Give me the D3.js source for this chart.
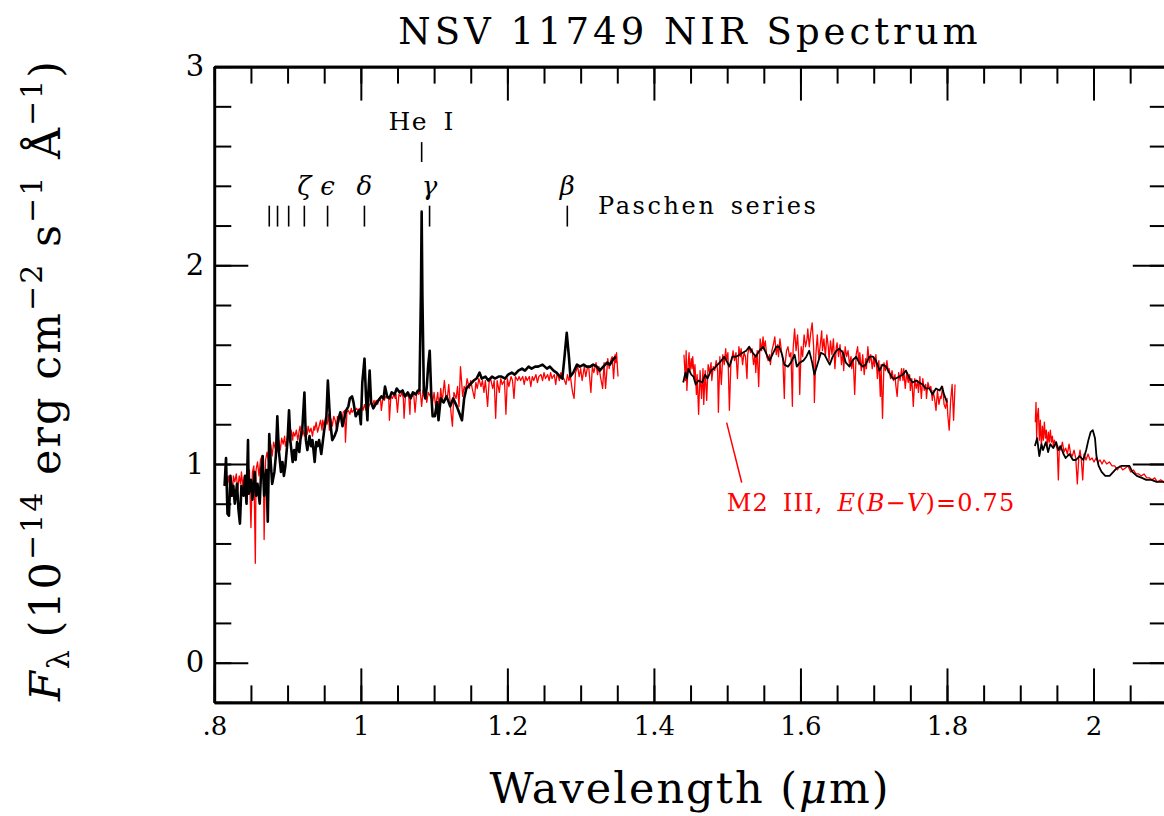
<!DOCTYPE html>
<html>
<head>
<meta charset="utf-8">
<script src="https://cdn.jsdelivr.net/npm/d3@7"></script>
<style>
  body { margin: 0; background: #fff; }
  text { font-family: "DejaVu Serif", serif; fill: #000; }
</style>
</head>
<body>
<svg id="chart"></svg>
<script>
/* Espectro observado (negro) por tramos: [longitud de onda um, flujo] */
const blackJ = [[0.814,0.89],[0.816,1.03],[0.818,0.75],[0.820,0.74],[0.822,0.94],[0.824,0.84],[0.826,0.89],[0.828,0.80],[0.831,0.90],[0.833,0.77],[0.835,0.70],[0.837,0.89],[0.840,0.84],[0.842,0.94],[0.844,0.80],[0.846,1.12],[0.847,0.85],[0.850,0.92],[0.852,0.82],[0.855,0.96],[0.857,0.84],[0.859,0.90],[0.862,0.80],[0.864,0.97],[0.866,1.04],[0.868,0.84],[0.871,0.97],[0.873,0.71],[0.875,1.15],[0.877,1.01],[0.879,0.90],[0.882,0.96],[0.884,1.04],[0.886,1.24],[0.888,1.07],[0.891,0.96],[0.893,1.01],[0.895,0.94],[0.897,0.99],[0.900,1.12],[0.902,1.27],[0.904,1.11],[0.907,1.01],[0.909,1.07],[0.911,1.02],[0.913,1.11],[0.916,1.06],[0.918,1.14],[0.920,1.17],[0.923,1.36],[0.925,1.12],[0.927,1.07],[0.930,1.14],[0.932,1.09],[0.934,1.12],[0.937,1.01],[0.939,1.11],[0.941,1.09],[0.943,1.12],[0.946,1.05],[0.948,1.11],[0.950,1.17],[0.953,1.24],[0.955,1.42],[0.958,1.22],[0.961,1.12],[0.964,1.14],[0.967,1.17],[0.969,1.22],[0.972,1.26],[0.975,1.19],[0.978,1.24],[0.980,1.27],[0.983,1.29],[0.985,1.33],[0.988,1.34],[0.990,1.31],[0.993,1.24],[0.996,1.26],[0.998,1.27],[1.000,1.20],[1.002,1.41],[1.005,1.53],[1.007,1.34],[1.009,1.22],[1.010,1.34],[1.012,1.47],[1.014,1.31],[1.017,1.28],[1.020,1.30],[1.024,1.32],[1.028,1.34],[1.031,1.33],[1.033,1.39],[1.036,1.34],[1.039,1.33],[1.042,1.36],[1.046,1.35],[1.049,1.38],[1.053,1.36],[1.057,1.37],[1.060,1.34],[1.064,1.36],[1.068,1.33],[1.071,1.36],[1.075,1.35],[1.078,1.37],[1.080,1.37],[1.082,1.85],[1.083,2.27],[1.084,1.85],[1.086,1.36],[1.088,1.33],[1.090,1.39],[1.092,1.50],[1.094,1.57],[1.096,1.36],[1.098,1.24],[1.101,1.24],[1.104,1.31],[1.106,1.22],[1.109,1.33],[1.113,1.31],[1.117,1.34],[1.122,1.29],[1.126,1.33],[1.131,1.29],[1.134,1.26],[1.138,1.22],[1.141,1.33],[1.144,1.38],[1.149,1.40],[1.154,1.42],[1.158,1.43],[1.162,1.46],[1.165,1.43],[1.170,1.44],[1.174,1.42],[1.179,1.44],[1.183,1.43],[1.188,1.44],[1.192,1.44],[1.197,1.43],[1.201,1.45],[1.206,1.46],[1.210,1.45],[1.215,1.47],[1.220,1.48],[1.224,1.47],[1.229,1.49],[1.233,1.48],[1.238,1.49],[1.242,1.49],[1.248,1.50],[1.254,1.48],[1.258,1.49],[1.263,1.47],[1.267,1.46],[1.272,1.44],[1.275,1.43],[1.278,1.54],[1.281,1.66],[1.284,1.54],[1.286,1.44],[1.290,1.46],[1.295,1.50],[1.299,1.49],[1.304,1.50],[1.308,1.49],[1.313,1.49],[1.317,1.50],[1.322,1.49],[1.326,1.47],[1.331,1.49],[1.336,1.51],[1.340,1.50],[1.345,1.53],[1.348,1.54]];

const blackH = [[1.440,1.41],[1.443,1.46],[1.445,1.43],[1.447,1.48],[1.451,1.45],[1.454,1.44],[1.457,1.40],[1.461,1.42],[1.466,1.41],[1.470,1.45],[1.473,1.43],[1.478,1.47],[1.482,1.48],[1.487,1.50],[1.492,1.52],[1.496,1.54],[1.499,1.52],[1.503,1.49],[1.507,1.54],[1.512,1.54],[1.517,1.55],[1.521,1.56],[1.526,1.57],[1.530,1.59],[1.535,1.56],[1.539,1.54],[1.544,1.57],[1.549,1.59],[1.554,1.55],[1.558,1.52],[1.563,1.56],[1.567,1.59],[1.571,1.59],[1.575,1.55],[1.578,1.50],[1.583,1.49],[1.587,1.51],[1.592,1.55],[1.595,1.49],[1.599,1.51],[1.604,1.52],[1.608,1.54],[1.612,1.57],[1.616,1.51],[1.619,1.45],[1.623,1.50],[1.628,1.56],[1.633,1.55],[1.637,1.52],[1.640,1.50],[1.644,1.54],[1.649,1.57],[1.653,1.58],[1.658,1.56],[1.662,1.51],[1.667,1.49],[1.671,1.52],[1.676,1.54],[1.680,1.51],[1.685,1.49],[1.689,1.50],[1.694,1.54],[1.699,1.54],[1.703,1.52],[1.708,1.47],[1.712,1.50],[1.717,1.49],[1.721,1.46],[1.726,1.43],[1.730,1.43],[1.735,1.44],[1.740,1.45],[1.744,1.47],[1.749,1.43],[1.753,1.41],[1.758,1.42],[1.762,1.41],[1.767,1.40],[1.771,1.38],[1.776,1.38],[1.780,1.35],[1.785,1.38],[1.790,1.37],[1.793,1.39],[1.796,1.35],[1.800,1.31]];

const blackK = [[1.920,1.09],[1.923,1.13],[1.926,1.04],[1.929,1.10],[1.931,1.07],[1.935,1.11],[1.938,1.06],[1.941,1.10],[1.945,1.08],[1.949,1.11],[1.952,1.07],[1.955,1.09],[1.959,1.05],[1.962,1.03],[1.967,1.05],[1.972,1.02],[1.976,1.02],[1.981,1.04],[1.986,1.02],[1.990,1.07],[1.993,1.12],[1.996,1.16],[1.999,1.17],[2.002,1.13],[2.004,1.04],[2.007,0.99],[2.011,0.96],[2.016,0.94],[2.022,0.94],[2.027,0.96],[2.032,0.98],[2.038,0.99],[2.044,0.99],[2.049,0.99],[2.053,0.96],[2.059,0.94],[2.066,0.93],[2.072,0.92],[2.079,0.92],[2.086,0.91],[2.095,0.91],[2.100,0.905]];

/* Espectro de comparación M2 III (rojo) */
const redJ = [[0.814,0.89],[0.816,0.93],[0.817,0.87],[0.819,0.94],[0.821,0.89],[0.823,0.93],[0.825,0.86],[0.826,0.94],[0.828,0.91],[0.830,0.95],[0.832,0.87],[0.834,0.94],[0.836,0.90],[0.837,0.96],[0.839,0.89],[0.841,0.94],[0.843,0.81],[0.845,0.96],[0.846,0.91],[0.848,0.97],[0.850,0.68],[0.852,0.96],[0.854,0.99],[0.856,0.50],[0.857,0.97],[0.859,1.01],[0.861,0.94],[0.863,1.02],[0.865,1.04],[0.867,0.97],[0.868,0.62],[0.870,1.02],[0.872,1.06],[0.874,1.01],[0.876,1.07],[0.877,1.10],[0.879,1.04],[0.881,1.11],[0.883,1.08],[0.885,1.12],[0.887,1.06],[0.888,1.12],[0.890,1.07],[0.892,1.13],[0.894,1.10],[0.896,1.14],[0.897,1.09],[0.899,1.12],[0.901,1.16],[0.903,1.11],[0.905,1.17],[0.907,1.12],[0.908,1.16],[0.910,1.14],[0.912,1.17],[0.914,1.12],[0.916,1.17],[0.917,1.19],[0.919,1.13],[0.921,1.17],[0.923,1.14],[0.925,1.18],[0.927,1.15],[0.928,1.19],[0.930,1.16],[0.932,1.18],[0.934,1.14],[0.936,1.19],[0.937,1.17],[0.939,1.21],[0.941,1.16],[0.943,1.19],[0.945,1.22],[0.947,1.17],[0.948,1.22],[0.950,1.19],[0.952,1.23],[0.954,1.20],[0.956,1.25],[0.957,1.17],[0.959,1.23],[0.961,1.19],[0.963,1.24],[0.965,1.22],[0.967,1.17],[0.968,1.24],[0.970,1.21],[0.972,1.25],[0.974,1.22],[0.976,1.26],[0.978,1.27],[0.979,1.11],[0.981,1.26],[0.983,1.27],[0.985,1.25],[0.987,1.28],[0.988,1.26],[0.990,1.27],[0.992,1.27],[0.994,1.28],[0.996,1.27],[0.998,1.28],[0.999,1.26],[1.001,1.29],[1.003,1.27],[1.005,1.30],[1.007,1.27],[1.008,1.30],[1.010,1.28],[1.012,1.30],[1.014,1.31],[1.016,1.29],[1.018,1.32],[1.019,1.30],[1.021,1.32],[1.023,1.30],[1.025,1.33],[1.027,1.32],[1.028,1.27],[1.030,1.33],[1.032,1.32],[1.034,1.34],[1.036,1.33],[1.038,1.34],[1.039,1.22],[1.041,1.34],[1.043,1.33],[1.045,1.35],[1.047,1.33],[1.048,1.35],[1.050,1.26],[1.052,1.35],[1.054,1.34],[1.056,1.36],[1.058,1.33],[1.059,1.23],[1.061,1.35],[1.063,1.34],[1.065,1.36],[1.067,1.25],[1.068,1.35],[1.070,1.34],[1.072,1.36],[1.074,1.26],[1.076,1.35],[1.078,1.37],[1.079,1.35],[1.081,1.37],[1.083,1.29],[1.085,1.37],[1.087,1.38],[1.090,1.31],[1.092,1.36],[1.095,1.34],[1.098,1.31],[1.100,1.36],[1.102,1.29],[1.105,1.36],[1.107,1.26],[1.109,1.38],[1.111,1.31],[1.114,1.42],[1.116,1.34],[1.118,1.33],[1.120,1.40],[1.123,1.26],[1.125,1.19],[1.127,1.36],[1.130,1.33],[1.132,1.39],[1.134,1.29],[1.136,1.49],[1.139,1.34],[1.141,1.39],[1.143,1.37],[1.145,1.43],[1.148,1.38],[1.150,1.42],[1.152,1.38],[1.155,1.33],[1.157,1.41],[1.159,1.38],[1.161,1.43],[1.164,1.39],[1.166,1.42],[1.168,1.36],[1.170,1.42],[1.173,1.29],[1.175,1.41],[1.177,1.43],[1.180,1.38],[1.182,1.42],[1.184,1.23],[1.186,1.42],[1.189,1.36],[1.191,1.43],[1.193,1.40],[1.196,1.42],[1.198,1.25],[1.200,1.43],[1.202,1.39],[1.205,1.44],[1.207,1.42],[1.209,1.33],[1.211,1.44],[1.214,1.42],[1.216,1.44],[1.218,1.42],[1.221,1.44],[1.223,1.40],[1.225,1.44],[1.227,1.42],[1.230,1.44],[1.232,1.39],[1.234,1.44],[1.236,1.42],[1.239,1.45],[1.241,1.41],[1.243,1.44],[1.246,1.45],[1.248,1.42],[1.250,1.46],[1.252,1.43],[1.255,1.45],[1.257,1.42],[1.259,1.46],[1.261,1.43],[1.264,1.45],[1.266,1.40],[1.268,1.46],[1.271,1.42],[1.273,1.46],[1.275,1.44],[1.277,1.43],[1.280,1.40],[1.282,1.45],[1.284,1.42],[1.286,1.44],[1.289,1.36],[1.291,1.33],[1.293,1.46],[1.296,1.49],[1.298,1.44],[1.300,1.48],[1.302,1.42],[1.305,1.49],[1.307,1.44],[1.309,1.48],[1.311,1.49],[1.314,1.36],[1.316,1.49],[1.318,1.46],[1.321,1.51],[1.323,1.45],[1.325,1.49],[1.327,1.44],[1.330,1.38],[1.332,1.51],[1.334,1.38],[1.337,1.53],[1.339,1.48],[1.341,1.52],[1.343,1.54],[1.345,1.43],[1.347,1.55],[1.348,1.51],[1.349,1.56],[1.351,1.44]];

const redH = [[1.441,1.55],[1.443,1.42],[1.444,1.57],[1.445,1.37],[1.447,1.52],[1.448,1.56],[1.449,1.46],[1.451,1.53],[1.452,1.48],[1.453,1.54],[1.455,1.43],[1.456,1.50],[1.458,1.35],[1.459,1.45],[1.461,1.25],[1.463,1.47],[1.465,1.33],[1.467,1.48],[1.468,1.30],[1.470,1.47],[1.472,1.32],[1.474,1.50],[1.476,1.46],[1.478,1.51],[1.479,1.42],[1.481,1.49],[1.483,1.47],[1.485,1.52],[1.487,1.47],[1.488,1.26],[1.490,1.54],[1.492,1.40],[1.494,1.55],[1.496,1.50],[1.498,1.58],[1.499,1.52],[1.501,1.56],[1.503,1.27],[1.505,1.50],[1.507,1.54],[1.508,1.57],[1.510,1.52],[1.512,1.56],[1.514,1.43],[1.516,1.59],[1.518,1.54],[1.519,1.58],[1.521,1.50],[1.523,1.56],[1.525,1.54],[1.527,1.43],[1.528,1.55],[1.530,1.59],[1.532,1.56],[1.534,1.58],[1.536,1.50],[1.538,1.55],[1.539,1.46],[1.541,1.57],[1.543,1.39],[1.545,1.63],[1.547,1.57],[1.549,1.64],[1.550,1.58],[1.552,1.62],[1.554,1.54],[1.556,1.52],[1.558,1.55],[1.559,1.50],[1.561,1.57],[1.563,1.60],[1.565,1.64],[1.567,1.55],[1.569,1.60],[1.570,1.54],[1.572,1.63],[1.574,1.57],[1.576,1.52],[1.578,1.33],[1.579,1.50],[1.581,1.57],[1.583,1.59],[1.585,1.54],[1.587,1.56],[1.589,1.29],[1.590,1.58],[1.592,1.68],[1.594,1.57],[1.596,1.65],[1.598,1.52],[1.599,1.35],[1.601,1.59],[1.603,1.54],[1.605,1.65],[1.607,1.59],[1.609,1.63],[1.610,1.68],[1.612,1.59],[1.614,1.66],[1.616,1.71],[1.618,1.59],[1.619,1.31],[1.621,1.55],[1.623,1.65],[1.625,1.53],[1.627,1.60],[1.629,1.67],[1.630,1.57],[1.632,1.63],[1.634,1.54],[1.636,1.65],[1.638,1.59],[1.639,1.52],[1.641,1.62],[1.643,1.55],[1.645,1.63],[1.647,1.48],[1.649,1.59],[1.650,1.61],[1.652,1.54],[1.654,1.60],[1.656,1.50],[1.658,1.57],[1.659,1.47],[1.661,1.59],[1.663,1.54],[1.665,1.57],[1.667,1.50],[1.669,1.54],[1.670,1.48],[1.672,1.53],[1.674,1.35],[1.676,1.55],[1.678,1.59],[1.680,1.50],[1.681,1.56],[1.683,1.47],[1.685,1.55],[1.687,1.45],[1.689,1.53],[1.690,1.48],[1.692,1.59],[1.694,1.51],[1.696,1.55],[1.698,1.48],[1.700,1.54],[1.701,1.49],[1.703,1.55],[1.705,1.43],[1.707,1.52],[1.709,1.34],[1.710,1.50],[1.712,1.23],[1.714,1.51],[1.716,1.47],[1.718,1.52],[1.720,1.46],[1.721,1.48],[1.723,1.43],[1.725,1.47],[1.727,1.42],[1.729,1.45],[1.730,1.40],[1.732,1.34],[1.734,1.46],[1.736,1.42],[1.738,1.48],[1.740,1.42],[1.741,1.48],[1.743,1.38],[1.745,1.46],[1.747,1.41],[1.749,1.45],[1.750,1.37],[1.752,1.43],[1.754,1.29],[1.756,1.43],[1.758,1.38],[1.760,1.42],[1.761,1.36],[1.763,1.44],[1.765,1.33],[1.767,1.43],[1.769,1.37],[1.771,1.40],[1.772,1.33],[1.774,1.41],[1.776,1.38],[1.778,1.39],[1.780,1.32],[1.781,1.37],[1.783,1.33],[1.785,1.27],[1.787,1.37],[1.789,1.30],[1.791,1.34],[1.792,1.33],[1.794,1.39],[1.796,1.30],[1.798,1.28],[1.800,1.33],[1.801,1.25],[1.803,1.17],[1.805,1.32],[1.807,1.40],[1.809,1.22],[1.811,1.40]];

const redK = [[1.9206,1.21],[1.9215,1.31],[1.9224,1.13],[1.9233,1.24],[1.9247,1.28],[1.9261,1.12],[1.9274,1.22],[1.9288,1.09],[1.9302,1.19],[1.9315,1.12],[1.9329,1.21],[1.9343,1.13],[1.9356,1.17],[1.9370,1.09],[1.9384,1.16],[1.9397,1.11],[1.9411,1.17],[1.9425,1.11],[1.9438,1.14],[1.9452,1.09],[1.9466,1.12],[1.9484,1.10],[1.9506,1.07],[1.9520,0.92],[1.9534,1.09],[1.9552,1.07],[1.9575,1.11],[1.9597,1.06],[1.9620,1.08],[1.9643,1.05],[1.9666,1.10],[1.9688,1.05],[1.9711,1.04],[1.9734,1.07],[1.9757,1.03],[1.9779,0.90],[1.9798,1.03],[1.9816,1.07],[1.9834,1.02],[1.9852,0.92],[1.9870,1.05],[1.9898,1.02],[1.9925,1.05],[1.9952,1.02],[1.9980,1.03],[2.0007,1.01],[2.0034,1.03],[2.0062,1.01],[2.0089,1.02],[2.0116,1.00],[2.0143,1.02],[2.0180,1.00],[2.0216,1.01],[2.0253,0.99],[2.0289,0.99],[2.0325,0.97],[2.0362,0.99],[2.0398,0.97],[2.0435,0.98],[2.0471,0.99],[2.0507,0.96],[2.0544,0.97],[2.0580,0.95],[2.0617,0.95],[2.0653,0.94],[2.0689,0.95],[2.0726,0.93],[2.0762,0.93],[2.0799,0.92],[2.0835,0.93],[2.0871,0.91],[2.0917,0.92],[2.0962,0.91],[2.1000,0.905]];

/* Ticks y etiquetas */
const xMajor = [0.8, 1.0, 1.2, 1.4, 1.6, 1.8, 2.0];
const xMajorLabels = ['.8', '1', '1.2', '1.4', '1.6', '1.8', '2'];
const yMajor = [0, 1, 2, 3];
const yMajorLabels = ['0', '1', '2', '3'];

/* Líneas de Paschen y He I */
const paschenWave = [0.8750, 0.8863, 0.9015, 0.9229, 0.9546, 1.0049, 1.0938, 1.2818];
const paschenLabel = ['', '', '', '\u03B6', '\u03F5', '\u03B4', '\u03B3', '\u03B2'];
const heWave = 1.083;

/* Canvas */
const w = 1164, h = 816;
const svg = d3.select('#chart').attr('width', w).attr('height', h);
svg.append('rect').attr('width', w).attr('height', h).attr('fill', '#fff');

const x = d3.scaleLinear().domain([0.8, 2.1]).range([214.3, 1166.8]);
const y = d3.scaleLinear().domain([-0.2, 3]).range([702.4, 66.6]);

/* Espectros */
const line = d3.line().x(d => x(d[0])).y(d => y(d[1]));
const plot = svg.append('g');
[redJ, redH, redK].forEach(s => {
  plot.append('path').attr('d', line(s))
    .attr('fill', 'none').attr('stroke', '#ff0000')
    .attr('stroke-width', 1.3).attr('stroke-linejoin', 'round');
});
[[blackJ, 2.6], [blackH, 1.8], [blackK, 1.8]].forEach(([s, sw]) => {
  plot.append('path').attr('d', line(s))
    .attr('fill', 'none').attr('stroke', '#000')
    .attr('stroke-width', sw).attr('stroke-linejoin', 'round');
});

/* Ejes: ticks hacia dentro en los cuatro lados */
const styleAxis = g => {
  g.attr('font-family', null).attr('font-size', null);
  g.select('.domain').attr('stroke', '#000').attr('stroke-width', 2.6);
  g.selectAll('.tick line').attr('stroke', '#000').attr('stroke-width', 2);
};
const addAxis = (axis, tx, ty) => svg.append('g')
  .attr('transform', `translate(${tx},${ty})`)
  .call(axis).call(styleAxis);

const xMinor = x.ticks(26);
const yMinor = y.ticks(16);

addAxis(d3.axisBottom(x).tickValues(xMinor).tickFormat('').tickSize(-17).tickSizeOuter(0), 0, y(-0.2));
addAxis(d3.axisTop(x).tickValues(xMinor).tickFormat('').tickSize(-17).tickSizeOuter(0), 0, y(3));
addAxis(d3.axisLeft(y).tickValues(yMinor).tickFormat('').tickSize(-17).tickSizeOuter(0), x(0.8), 0);
addAxis(d3.axisRight(y).tickValues(yMinor).tickFormat('').tickSize(-17).tickSizeOuter(0), x(2.1), 0);

const xAx = addAxis(d3.axisBottom(x).tickValues(xMajor).tickFormat((d, i) => xMajorLabels[i])
  .tickSize(-34).tickSizeOuter(0).tickPadding(14), 0, y(-0.2));
addAxis(d3.axisTop(x).tickValues(xMajor).tickFormat('').tickSize(-34).tickSizeOuter(0), 0, y(3));
const yAx = addAxis(d3.axisLeft(y).tickValues(yMajor).tickFormat((d, i) => yMajorLabels[i])
  .tickSize(-34).tickSizeOuter(0).tickPadding(10), x(0.8), 0);
addAxis(d3.axisRight(y).tickValues(yMajor).tickFormat('').tickSize(-34).tickSizeOuter(0), x(2.1), 0);

xAx.selectAll('text').attr('font-size', 26);
yAx.selectAll('text').attr('font-size', 29);

/* Título */
svg.append('text')
  .attr('x', 690).attr('y', 44)
  .attr('text-anchor', 'middle')
  .attr('font-size', 37).attr('letter-spacing', 4)
  .text('NSV 11749 NIR Spectrum');

/* Etiqueta eje X */
const xl = svg.append('text')
  .attr('x', 690).attr('y', 803)
  .attr('text-anchor', 'middle')
  .attr('font-size', 43).attr('letter-spacing', 2);
xl.append('tspan').text('Wavelength (');
xl.append('tspan').attr('font-style', 'italic').text('\u03BC');
xl.append('tspan').text('m)');

/* Etiqueta eje Y */
const yl = svg.append('text')
  .attr('transform', 'translate(60,380) rotate(-90)')
  .attr('text-anchor', 'middle')
  .attr('font-size', 43).attr('letter-spacing', 2);
yl.append('tspan').attr('font-style', 'italic').text('F');
yl.append('tspan').attr('font-size', 30).attr('dy', 9).text('\u03BB');
yl.append('tspan').attr('dy', -9).text('\u2009(10');
yl.append('tspan').attr('font-size', 30).attr('dy', -18).text('\u221214');
yl.append('tspan').attr('dy', 18).text(' erg cm');
yl.append('tspan').attr('font-size', 30).attr('dy', -18).text('\u22122');
yl.append('tspan').attr('dy', 18).text(' s');
yl.append('tspan').attr('font-size', 30).attr('dy', -18).text('\u22121');
yl.append('tspan').attr('dy', 18).text(' \u00C5');
yl.append('tspan').attr('font-size', 30).attr('dy', -18).text('\u22121');
yl.append('tspan').attr('dy', 18).text(')');

/* Marcas de líneas de Paschen */
const ann = svg.append('g');
ann.selectAll('line.pa').data(paschenWave).join('line')
  .attr('class', 'pa')
  .attr('x1', d => x(d)).attr('x2', d => x(d))
  .attr('y1', y(2.30)).attr('y2', y(2.195))
  .attr('stroke', '#000').attr('stroke-width', 1.6);
ann.selectAll('text.pa').data(paschenWave).join('text')
  .attr('class', 'pa')
  .attr('x', d => x(d)).attr('y', y(2.352))
  .attr('text-anchor', 'middle')
  .attr('font-size', 26).attr('font-style', 'italic')
  .text((d, i) => paschenLabel[i]);
ann.append('text')
  .attr('x', x(1.3237)).attr('y', y(2.256))
  .attr('font-size', 24).attr('letter-spacing', 2.6).attr('word-spacing', 4)
  .text('Paschen series');

/* He I */
ann.append('line')
  .attr('x1', x(heWave)).attr('x2', x(heWave))
  .attr('y1', y(2.62)).attr('y2', y(2.52))
  .attr('stroke', '#000').attr('stroke-width', 1.6);
ann.append('text')
  .attr('x', x(heWave)).attr('y', y(2.68))
  .attr('text-anchor', 'middle').attr('font-size', 25)
  .attr('letter-spacing', 1.5).attr('word-spacing', 6)
  .text('He I');

/* Rótulo del espectro de comparación */
ann.append('line')
  .attr('x1', x(1.4993)).attr('y1', y(1.208))
  .attr('x2', x(1.5198)).attr('y2', y(0.906))
  .attr('stroke', '#ff0000').attr('stroke-width', 1.5);
const rl = ann.append('text')
  .attr('x', x(1.4993)).attr('y', y(0.763))
  .attr('font-size', 24).attr('letter-spacing', 1.2).attr('word-spacing', 5)
  .style('fill', '#ff0000');
rl.append('tspan').text('M2 III, ');
rl.append('tspan').attr('font-style', 'italic').text('E');
rl.append('tspan').text('(');
rl.append('tspan').attr('font-style', 'italic').text('B');
rl.append('tspan').text('\u2212');
rl.append('tspan').attr('font-style', 'italic').text('V');
rl.append('tspan').text(')=0.75');
</script>
</body>
</html>
